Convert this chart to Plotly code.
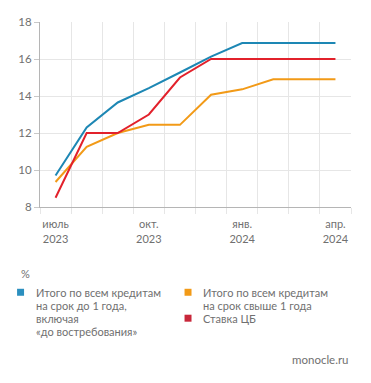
import plotly.graph_objects as go

months = ["июль<br>2023", "авг.<br>2023", "сент.<br>2023", "окт.<br>2023", "нояб.<br>2023",
          "дек.<br>2023", "янв.<br>2024", "февр.<br>2024", "март<br>2024", "апр.<br>2024"]
short_term = [9.7, 12.3, 13.65, 14.43, 15.27, 16.13, 16.86, 16.86, 16.86, 16.86]
long_term = [9.35, 11.25, 12.0, 12.44, 12.44, 14.07, 14.36, 14.9, 14.9, 14.9]
key_rate = [8.5, 12.0, 12.0, 13.0, 15.0, 16.0, 16.0, 16.0, 16.0, 16.0]
series_names = ["Итого по всем кредитам<br>на срок до 1 года,<br>включая<br>«до востребования»",
                "Итого по всем кредитам<br>на срок свыше 1 года",
                "Ставка ЦБ"]
colors = ["#1d87b4", "#f29a17", "#e2212b"]
legend_colors = ["#2b8fbf", "#f29a17", "#c8273a"]
y_ticks = [8, 10, 12, 14, 16, 18]
label_months = [0, 3, 6, 9]

# page body has an 8px margin: figure origin sits at (8, 8) of the window
OFF = 8
W, H = 371 - OFF, 383 - OFF
ML, MR, MT, MB = 39.5 - OFF, 19.5, 22 - OFF, 175.5
PW, PH = W - ML - MR, H - MT - MB

def px(x):  # page pixel -> paper x
    return (x - OFF - ML) / PW

def py(y):  # page pixel -> paper y
    return (H - MB - (y - OFF)) / PH

xs = list(range(len(months)))
fig = go.Figure()
for vals, name, c in zip([short_term, long_term, key_rate], series_names, colors):
    fig.add_trace(go.Scatter(x=xs, y=vals, mode="lines", name=name,
                             line=dict(color=c, width=2), showlegend=False))

font = dict(family="Lato, sans-serif", size=11.5, color="#707070")
xfont = dict(family="Lato, sans-serif", size=11, color="#707070")
lfont = dict(family="Lato, sans-serif", size=11, color="#707070")
grid = "#e6e6e6"
fig.update_layout(
    template="none",
    width=W, height=H, margin=dict(l=ML, r=MR, t=MT, b=MB, pad=0),
    paper_bgcolor="white", plot_bgcolor="white", font=font,
    xaxis=dict(range=[-0.5, len(months) - 0.5], tickvals=label_months,
               ticktext=[months[i] for i in label_months], showgrid=False,
               ticks="", showline=True, linecolor="#b5b5b5", linewidth=1,
               zeroline=False, tickfont=xfont, automargin=False, ticklabelstandoff=7,
               minor=dict(tick0=-0.5, dtick=1, showgrid=True, gridcolor=grid,
                          gridwidth=1, ticks="outside", ticklen=6, tickcolor=grid)),
    yaxis=dict(range=[8, 18], tickvals=y_ticks, showgrid=True, gridcolor=grid,
               ticks="outside", ticklen=5, tickcolor="#c8c8c8", showline=True,
               linecolor="#b5b5b5", linewidth=1, zeroline=False, tickfont=font,
               automargin=False),
)

fig.add_annotation(x=px(18), y=py(274), xref="paper", yref="paper", text="%",
                   showarrow=False, xanchor="left", yanchor="middle", font=lfont)
fig.add_annotation(x=px(352), y=py(360), xref="paper", yref="paper", text="monocle.ru",
                   showarrow=False, xanchor="right", yanchor="middle", font=font)

legend_pos = [(20, 33, 293), (188, 201, 293), (188, 201, 319)]
line_step = 13
for (sx, tx, ty), name, c in zip(legend_pos, series_names, legend_colors):
    fig.add_shape(type="rect", xref="paper", yref="paper",
                  x0=px(sx - 3.5), x1=px(sx + 3.5), y0=py(ty + 3.5), y1=py(ty - 3.5),
                  fillcolor=c, line=dict(width=0))
    for k, line in enumerate(name.split("<br>")):
        fig.add_annotation(x=px(tx), y=py(ty + k * line_step), xref="paper", yref="paper",
                           text=line, showarrow=False, xanchor="left", yanchor="middle",
                           align="left", font=lfont)

fig.write_html("out.html")
